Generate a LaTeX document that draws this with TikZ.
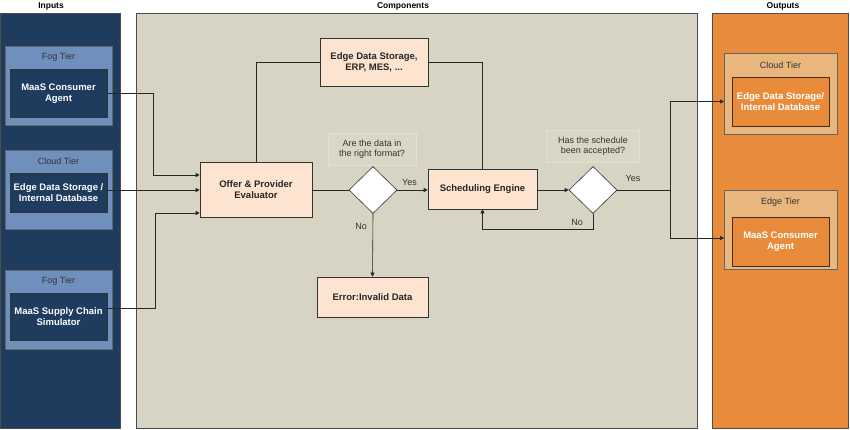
\documentclass[tikz,border=0pt]{standalone}
\usepackage{fontspec}
\setmainfont{Liberation Sans}
\usetikzlibrary{arrows.meta,shapes.geometric}
\definecolor{navy}{HTML}{1F3B5E}
\definecolor{steel}{HTML}{6F8FBD}
\definecolor{beige}{HTML}{D7D4C3}
\definecolor{peach}{HTML}{FDE4D0}
\definecolor{orng}{HTML}{E88C3C}
\definecolor{tan}{HTML}{E9B77E}
\definecolor{lbl}{HTML}{DAD7C7}
\definecolor{lblb}{HTML}{E2E0D3}
\tikzset{
  panel/.style={draw=black!70, line width=0.8pt},
  innerbox/.style={draw=black!80, line width=0.6pt, text=white, font=\bfseries\fontsize{9.5}{11}\selectfont, align=center, inner sep=0pt},
  comp/.style={draw=black!80, fill=peach, line width=0.6pt, font=\bfseries\fontsize{9.5}{11}\selectfont, align=center, inner sep=0pt, text=black!85},
  dec/.style={diamond, draw=black!80, fill=white, line width=0.6pt, minimum width=48pt, minimum height=47pt, inner sep=0pt, aspect=1},
  qlabel/.style={fill=lbl, draw=lblb, line width=0.5pt, font=\fontsize{9}{10.5}\selectfont, align=center, text=black!80, inner sep=2pt},
  elabel/.style={font=\fontsize{9}{10}\selectfont, text=black!80},
  title/.style={font=\bfseries\fontsize{8.5}{9}\selectfont},
  tierlabel/.style={font=\fontsize{9}{10}\selectfont, text=black!80},
  conn/.style={draw=black!85, line width=0.6pt},
  arr/.style={conn, -{Triangle[length=4pt,width=4pt]}}
}
\begin{document}
\begin{tikzpicture}[x=1pt,y=-1pt]
\useasboundingbox (0,0) rectangle (850,430);
\fill[white] (0,0) rectangle (850,430);
% panels
\filldraw[panel, fill=navy] (0,13) rectangle (120,428);
\filldraw[panel, fill=beige] (136,13) rectangle (697,428);
\filldraw[panel, fill=orng] (712,13) rectangle (848,428);
\node[title] (tin) at (51,6) {Inputs};
\node[title] (tcomp) at (403,6) {Components};
\node[title] (tout) at (783,6) {Outputs};
% input tiers
\filldraw[draw=black!60, fill=steel, line width=0.6pt] (5,46) rectangle (112,125);
\filldraw[draw=black!60, fill=steel, line width=0.6pt] (5,150) rectangle (112,229);
\filldraw[draw=black!60, fill=steel, line width=0.6pt] (5,270) rectangle (112,349);
\node[tierlabel] (l1) at (58.5,57) {Fog Tier};
\node[tierlabel] (l2) at (58.5,161) {Cloud Tier};
\node[tierlabel] (l3) at (58.5,281) {Fog Tier};
\node[innerbox, fill=navy, minimum width=97pt, minimum height=48pt] (agent) at (58.5,93.5) {MaaS Consumer\\Agent};
\node[innerbox, fill=navy, minimum width=97pt, minimum height=39pt] (edb) at (58.5,192.5) {Edge Data Storage /\\Internal Database};
\node[innerbox, fill=navy, minimum width=97pt, minimum height=47pt] (sim) at (58.5,317) {MaaS Supply Chain\\Simulator};
% output tiers
\filldraw[draw=black!60, fill=tan, line width=0.6pt] (724,53) rectangle (837,134);
\filldraw[draw=black!60, fill=tan, line width=0.6pt] (724,190) rectangle (837,269);
\node[tierlabel] (l4) at (780.5,65) {Cloud Tier};
\node[tierlabel] (l5) at (780.5,202) {Edge Tier};
\node[innerbox, fill=orng, draw=black!70!orng, minimum width=97pt, minimum height=49pt] (oedb) at (780.5,101.5) {Edge Data Storage/\\Internal Database};
\node[innerbox, fill=orng, draw=black!70!orng, minimum width=97pt, minimum height=49pt] (oagent) at (780.5,241.5) {MaaS Consumer\\Agent};
% components
\node[comp, minimum width=108pt, minimum height=48pt] (eds) at (374,62) {Edge Data Storage,\\ERP, MES, ...};
\node[comp, minimum width=112pt, minimum height=55pt] (eval) at (256,189.5) {Offer \& Provider\\Evaluator};
\node[dec] (d1) at (373,190) {};
\node[comp, minimum width=109pt, minimum height=40pt] (sched) at (482.5,189) {Scheduling Engine};
\node[dec] (d2) at (593,190) {};
\node[comp, minimum width=111pt, minimum height=40pt] (err) at (372.5,297) {Error:Invalid Data};
\node[qlabel, minimum width=88pt, minimum height=32pt] (q1) at (372,149) {Are the data in\\the right format?};
\node[qlabel, minimum width=93pt, minimum height=32pt] (q2) at (593,146) {Has the schedule\\been accepted?};
% input connectors
\draw[arr] (agent.east) -- (153,93.5) |- (eval.west |- 0,175);
\draw[arr] (edb.east |- 0,190) -- (eval.west |- 0,190);
\draw[arr] (sim.east |- 0,308) -- (155,308) |- (eval.west |- 0,213);
% flow
\draw[conn] (eval.north) |- (eds.west);
\draw[conn] (eds.east) -| (sched.north);
\draw[conn] (eval.east |- d1.west) -- (d1.west);
\draw[arr] (d1.east) -- node[elabel, above=1pt, pos=0.4] (yes1) {Yes} (sched.west |- d1.east);
\draw[arr] (d1.south) -- (err.north);
\node[elabel] (no1) at (361,226) {No};
\draw[arr] (sched.east |- d2.west) -- (d2.west);
\draw[arr] (d2.south) -- (593,229) -| (sched.south);
\node[elabel] (no2) at (577,222) {No};
\coordinate (split) at (670,190);
\draw[conn] (d2.east) -- (split);
\node[elabel] (yes2) at (633,178) {Yes};
\draw[arr] (split) |- (oedb.west -| 724,94);
\draw[arr] (split) |- (724,238);
\end{tikzpicture}
\end{document}
